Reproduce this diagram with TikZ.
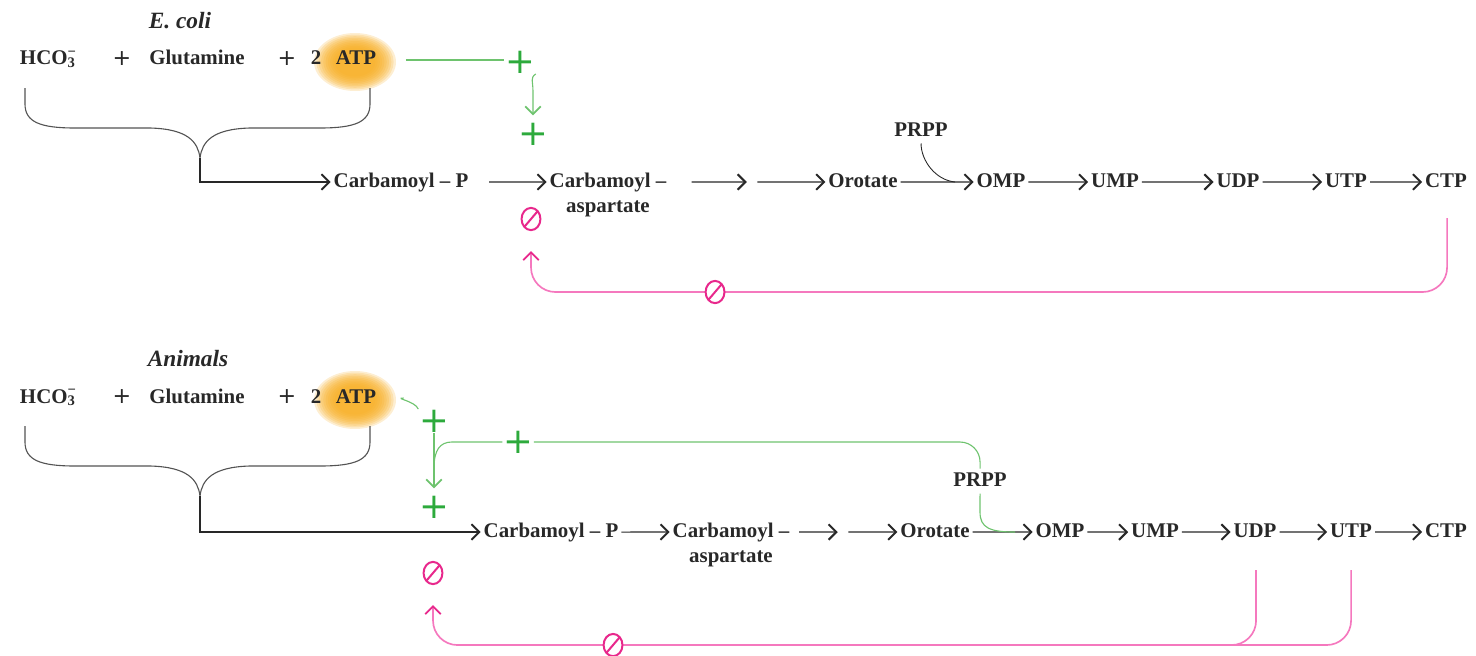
\documentclass[tikz,border=0pt]{standalone}
\usepackage{fontspec}
\setmainfont{Liberation Serif}
\newfontfamily\plusfont{DejaVu Sans}
\usetikzlibrary{arrows.meta,shapes.geometric,positioning}

\definecolor{ink}{RGB}{40,40,40}
\definecolor{pathgreen}{RGB}{110,195,110}
\definecolor{plusgreen}{RGB}{45,170,60}
\definecolor{fbpink}{RGB}{245,120,190}
\definecolor{fbmagenta}{RGB}{232,40,140}
\definecolor{atporange}{RGB}{247,172,30}

\tikzset{every picture/.style={line width=0.75pt}}
\tikzset{
  cmpd/.style={font=\fontsize{9.4}{11}\selectfont\bfseries, text=ink, inner sep=1pt, text height=6.5pt, text depth=2pt},
  addsign/.style={font=\plusfont\fontsize{10}{11}\selectfont, text=ink, inner sep=1pt},
  title/.style={font=\fontsize{10.5}{12}\selectfont\bfseries\itshape, text=ink},
  gapnode/.style={inner sep=0pt, minimum width=4pt},
  rxn/.style={draw=ink, line width=0.5pt, -{Straight Barb[length=3.5pt,width=7pt,line width=0.9pt]}},
  brace/.style={draw=ink!80, line width=0.5pt},
  gline/.style={draw=pathgreen, line width=0.5pt},
  garrow/.style={-{Straight Barb[length=3.5pt,width=7pt,line width=0.8pt]}},
  gplus/.style={text=plusgreen, font=\plusfont\fontsize{16}{16}\selectfont, inner sep=0pt},
  fbline/.style={draw=fbpink, line width=0.75pt, rounded corners=11pt},
  fbarrow/.style={-{Straight Barb[length=3.5pt,width=7pt,line width=0.8pt,color=fbmagenta]}},
  inhib/.style={ellipse, draw=fbmagenta, line width=0.9pt, fill=white, minimum width=8.5pt, minimum height=10pt, inner sep=0pt,
    path picture={\draw[fbmagenta, line width=0.9pt] (path picture bounding box.south west) -- (path picture bounding box.north east);}}
}

\begin{document}
\begin{tikzpicture}[x=0.75pt,y=0.75pt,yscale=-0.6,xscale=0.6]
\useasboundingbox (0,0) rectangle (1476,656);

%%%%% E. coli
\foreach \k in {0,...,9}
  \fill[atporange, opacity=0.2] (355,62) ellipse ({41-2.3*\k} and {29-1.6*\k});
\node[title] (ecoli) at (180,21) {E. coli};
\node[cmpd] (hco1) at (48,60) {HCO\rlap{\textsuperscript{−}}\textsubscript{3}};
\node[addsign] (add1a) at (122,59) {+};
\node[cmpd] (glu1) at (197,60) {Glutamine};
\node[addsign] (add1b) at (287,59) {+};
\node[cmpd] (two1) at (316,60) {2};
\node[cmpd] (atp1) at (356,60) {ATP};

% brace
\draw[brace] (25,88) -- (25,104) .. controls (25,122) and (40,128) .. (75,128) -- (150,128)
  .. controls (188,129) and (198,142) .. (200,158) .. controls (202,142) and (212,129) .. (250,128)
  -- (320,128) .. controls (355,128) and (370,122) .. (370,104) -- (370,88);
\coordinate (tip1) at (200,158);

% pathway
\node[cmpd] (cp1) at (401,182) {Carbamoyl – P};
\node[cmpd] (ca1) at (608,182) {Carbamoyl –};
\node[cmpd] (ca1b) at (608,207) {aspartate};
\node[gapnode] (i1) at (752,182) {};
\node[cmpd] (or1) at (863,182) {Orotate};
\node[cmpd] (omp1) at (1001,182) {OMP};
\node[cmpd] (ump1) at (1115,182) {UMP};
\node[cmpd] (udp1) at (1238,182) {UDP};
\node[cmpd] (utp1) at (1346,182) {UTP};
\node[cmpd] (ctp1) at (1446,182) {CTP};
\node[cmpd] (prpp1) at (921,131) {PRPP};
\coordinate (j1) at (955,182);

\draw[rxn] (tip1) |- (cp1);
\draw[rxn, shorten <=8pt] (cp1) -- (ca1);
\draw[rxn, shorten <=10pt] (ca1) -- (i1);
\draw[rxn] (i1) -- (or1);
\draw[rxn] (or1) -- (omp1);
\draw[rxn] (omp1) -- (ump1);
\draw[rxn] (ump1) -- (udp1);
\draw[rxn] (udp1) -- (utp1);
\draw[rxn] (utp1) -- (ctp1);
\draw[ink, line width=0.4pt] (prpp1.south) .. controls (921,160) and (935,180) .. (j1);

% activation
\node[gplus] (pa1) at (520,62) {+};
\node[gplus] (pb1) at (533,134) {+};
\draw[gline, shorten <=12pt] (atp1.east) -- (atp1.east -| pa1.west);
\draw[gline, garrow, shorten >=3pt] (pa1.south east) .. controls (530,78) and (533,80) .. (533,92) -- (pb1.north);

% inhibition
\node[inhib] (ih1) at (531,219) {};
\coordinate (fb1) at (1447,218);
\coordinate (k1) at (715,292);
\draw[fbline, fbarrow, shorten >=9pt] (fb1) |- (k1) -| (ih1.south);
\node[inhib] (ih1b) at (k1) {};

%%%%% Animals
\foreach \k in {0,...,9}
  \fill[atporange, opacity=0.2] (355,400) ellipse ({41-2.3*\k} and {29-1.6*\k});
\node[title] (anim) at (188,359) {Animals};
\node[cmpd] (hco2) at (48,398) {HCO\rlap{\textsuperscript{−}}\textsubscript{3}};
\node[addsign] (add2a) at (122,397) {+};
\node[cmpd] (glu2) at (197,398) {Glutamine};
\node[addsign] (add2b) at (287,397) {+};
\node[cmpd] (two2) at (316,398) {2};
\node[cmpd] (atp2) at (356,398) {ATP};

% brace
\draw[brace] (25,426) -- (25,442) .. controls (25,460) and (40,466) .. (75,466) -- (150,466)
  .. controls (188,467) and (198,480) .. (200,496) .. controls (202,480) and (212,467) .. (250,466)
  -- (320,466) .. controls (355,466) and (370,460) .. (370,442) -- (370,426);
\coordinate (tip2) at (200,496);

% pathway
\node[cmpd] (cp2) at (551,532) {Carbamoyl – P};
\node[cmpd] (ca2) at (731,532) {Carbamoyl –};
\node[cmpd] (ca2b) at (731,557) {aspartate};
\node[gapnode] (i2) at (843,532) {};
\node[cmpd] (or2) at (935,532) {Orotate};
\node[cmpd] (omp2) at (1060,532) {OMP};
\node[cmpd] (ump2) at (1155,532) {UMP};
\node[cmpd] (udp2) at (1255,532) {UDP};
\node[cmpd] (utp2) at (1351,532) {UTP};
\node[cmpd] (ctp2) at (1446,532) {CTP};
\node[cmpd] (prpp2) at (980,481) {PRPP};
\coordinate (j3) at (1015,532);

\draw[rxn] (tip2) |- (cp2);
\draw[rxn] (cp2) -- (ca2);
\draw[rxn, shorten <=3pt] (ca2) -- (i2);
\draw[rxn] (i2) -- (or2);
\draw[rxn] (or2) -- (omp2);
\draw[rxn] (omp2) -- (ump2);
\draw[rxn] (ump2) -- (udp2);
\draw[rxn] (udp2) -- (utp2);
\draw[rxn] (utp2) -- (ctp2);

% activation
\node[gplus] (pa2) at (434,421) {+};
\node[gplus] (pc2) at (518,442) {+};
\node[gplus] (pb2) at (434,507) {+};
\coordinate (j2) at (434,468);
\draw[gline, shorten <=11pt] (atp2.east) .. controls +(14,0) and +(-3,-8) .. (pa2.north west);
\draw[gline, garrow, shorten >=3pt] (pa2.south) -- (pb2.north);
\draw[gline, rounded corners=9pt] (prpp2.north) |- (pc2.east);
\draw[gline] (pc2.west) -- (452,442) .. controls (440,442) and (434,450) .. (j2);
\draw[gline] (prpp2.south) -- (980,512) .. controls (980,528) and (990,532) .. (j3);

% inhibition
\node[inhib] (ih2) at (433,573) {};
\coordinate (fb2) at (1256,570);
\coordinate (fb3) at (1351,570);
\coordinate (k2) at (613,645);
\draw[fbline] (fb2) |- (k2);
\draw[fbline, fbarrow, shorten >=9pt] (fb3) |- (k2) -| (ih2.south);
\node[inhib] (ih2b) at (k2) {};

\end{tikzpicture}
\end{document}
